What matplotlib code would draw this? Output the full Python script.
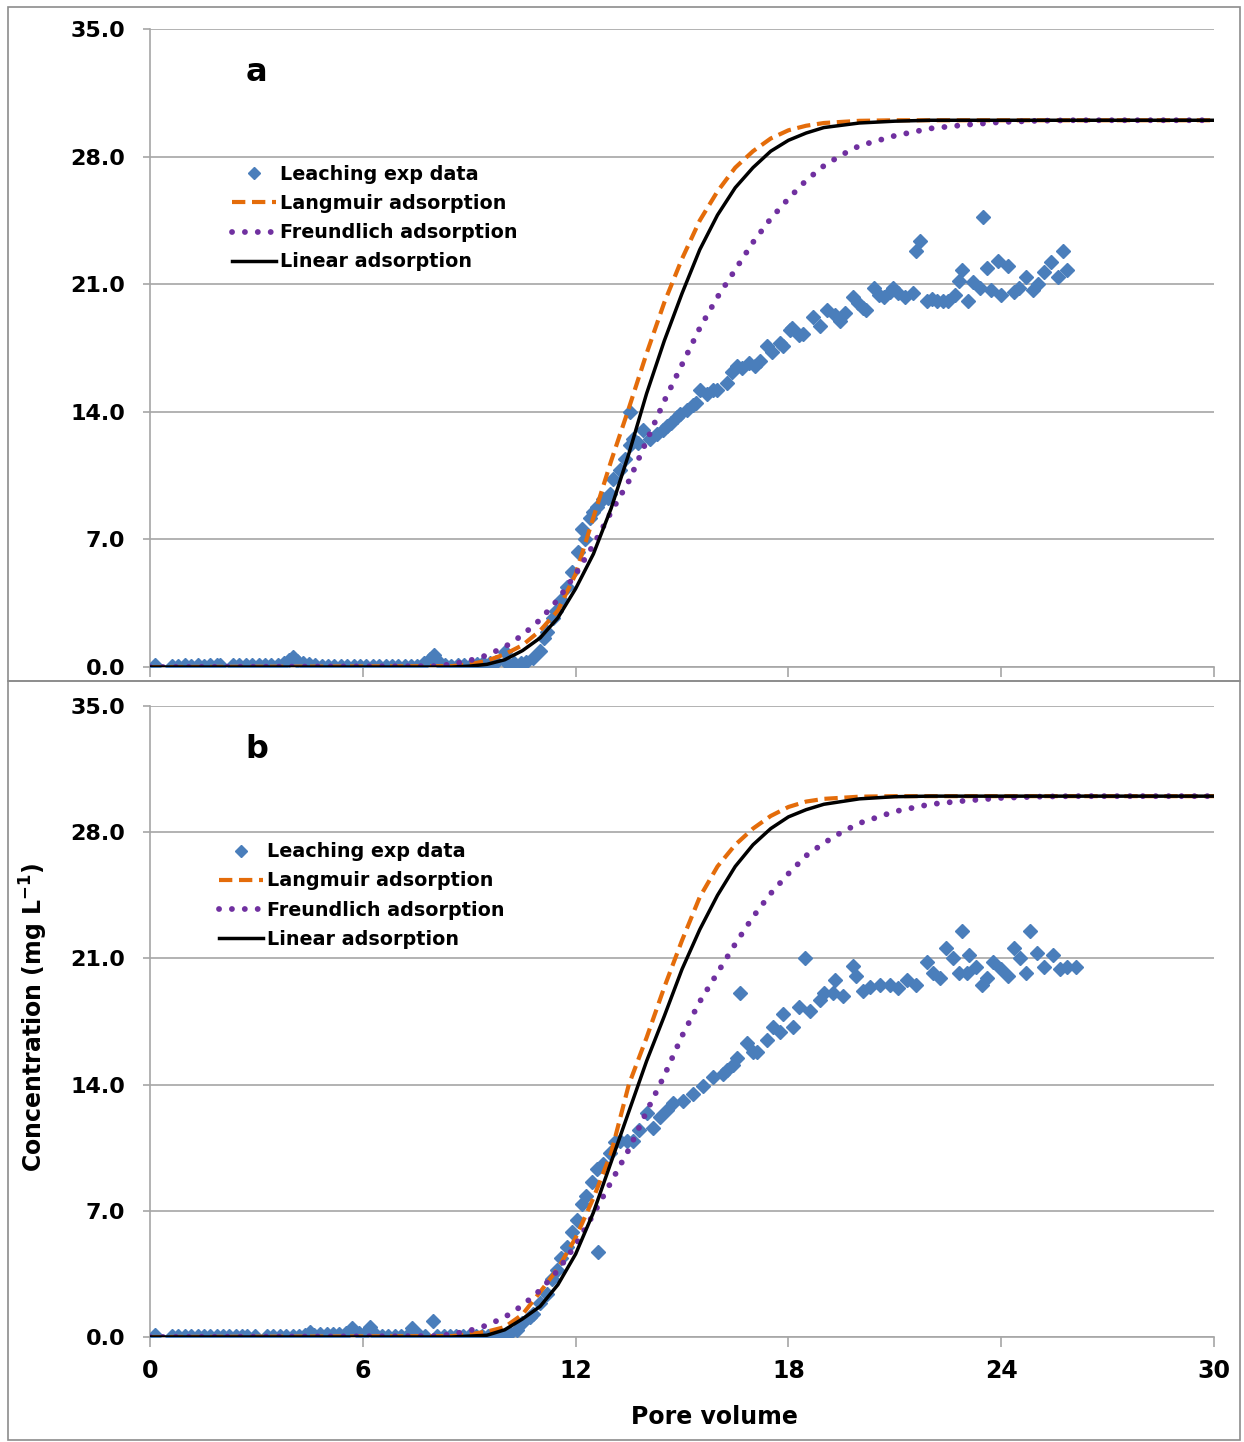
import matplotlib
matplotlib.use("Agg")
import matplotlib.pyplot as plt
from matplotlib.patches import Rectangle

plt.rcParams['font.family'] = ['DejaVu Sans']
plt.rcParams['font.weight'] = 'bold'
plt.rcParams['mathtext.default'] = 'bf'

# ---- leaching experiment data, panel a ----
pv_a = [0.14, 0.62, 0.80, 0.98, 1.16, 1.34, 1.52, 1.70, 1.88, 1.97,
        2.34, 2.52, 2.70, 2.88, 3.06, 3.24, 3.42, 3.60, 3.78, 3.92,
        4.02, 4.14, 4.30, 4.48, 4.66, 4.84, 5.02, 5.20, 5.38, 5.56,
        5.74, 5.92, 6.10, 6.28, 6.46, 6.64, 6.82, 7.00, 7.18, 7.36,
        7.54, 7.72, 7.88, 8.00, 8.14, 8.32, 8.50, 8.68, 8.86, 9.04,
        9.22, 9.40, 9.58, 9.76, 10.00, 10.06, 10.25, 10.45, 10.60, 10.80,
        11.00, 11.10, 11.20, 11.37, 11.45, 11.60, 11.75, 11.90, 12.07, 12.17,
        12.26, 12.40, 12.50, 12.60, 12.78, 12.90, 12.97, 13.05, 13.25, 13.40,
        13.53, 13.53, 13.62, 13.75, 13.90, 14.10, 14.30, 14.45, 14.57, 14.70,
        14.86, 14.94, 15.14, 15.30, 15.40, 15.50, 15.70, 15.87, 15.98, 16.27,
        16.40, 16.55, 16.70, 16.90, 17.05, 17.20, 17.40, 17.55, 17.76, 17.85,
        18.04, 18.10, 18.30, 18.40, 18.70, 18.90, 19.10, 19.30, 19.45, 19.60,
        19.82, 19.95, 20.10, 20.20, 20.40, 20.55, 20.70, 20.85, 20.95, 21.10,
        21.30, 21.50, 21.60, 21.70, 21.90, 22.05, 22.20, 22.36, 22.50, 22.70,
        22.80, 22.90, 23.07, 23.20, 23.40, 23.50, 23.60, 23.70, 23.90, 24.00,
        24.20, 24.35, 24.50, 24.70, 24.90, 25.05, 25.20, 25.40, 25.60, 25.75,
        25.85]
conc_a = [0.10, 0.08, 0.08, 0.10, 0.08, 0.10, 0.08, 0.10, 0.10, 0.12,
          0.12, 0.10, 0.12, 0.10, 0.12, 0.10, 0.10, 0.12, 0.25, 0.40,
          0.55, 0.35, 0.20, 0.15, 0.10, 0.08, 0.06, 0.06, 0.05, 0.05,
          0.05, 0.05, 0.05, 0.05, 0.05, 0.05, 0.05, 0.05, 0.05, 0.05,
          0.08, 0.25, 0.45, 0.65, 0.30, 0.10, 0.08, 0.10, 0.10, 0.12,
          0.15, 0.20, 0.25, 0.30, 0.80, 0.20, 0.20, 0.25, 0.30, 0.50,
          0.90, 1.60, 1.90, 2.70, 3.10, 3.70, 4.40, 5.20, 6.30, 7.60,
          7.00, 8.20, 8.50, 8.80, 9.20, 9.30, 9.50, 10.30, 10.80, 11.40,
          12.20, 14.00, 12.50, 12.30, 13.00, 12.50, 12.80, 13.00, 13.20, 13.40,
          13.70, 13.90, 14.10, 14.40, 14.50, 15.20, 15.00, 15.20, 15.20, 15.60,
          16.20, 16.50, 16.40, 16.70, 16.50, 16.80, 17.60, 17.30, 17.80, 17.60,
          18.50, 18.60, 18.20, 18.30, 19.20, 18.70, 19.60, 19.30, 19.00, 19.40,
          20.30, 20.00, 19.70, 19.60, 20.80, 20.40, 20.30, 20.60, 20.80, 20.50,
          20.30, 20.50, 22.80, 23.40, 20.10, 20.20, 20.10, 20.10, 20.10, 20.40,
          21.20, 21.80, 20.10, 21.10, 20.80, 24.70, 21.90, 20.70, 22.30, 20.40,
          22.00, 20.60, 20.80, 21.40, 20.70, 21.00, 21.70, 22.20, 21.40, 22.80,
          21.80]

# ---- leaching experiment data, panel b ----
pv_b = [0.14, 0.62, 0.80, 0.98, 1.16, 1.34, 1.52, 1.70, 1.88, 2.06,
        2.24, 2.42, 2.60, 2.73, 2.96, 3.30, 3.48, 3.66, 3.84, 4.02,
        4.20, 4.38, 4.50, 4.62, 4.80, 4.98, 5.16, 5.34, 5.52, 5.70,
        5.88, 6.06, 6.20, 6.36, 6.54, 6.72, 6.90, 7.08, 7.26, 7.40,
        7.58, 7.76, 7.97, 8.10, 8.28, 8.46, 8.64, 8.82, 9.00, 9.18,
        9.36, 9.54, 9.72, 9.90, 10.05, 10.15, 10.35, 10.50, 10.70, 10.80,
        11.00, 11.20, 11.33, 11.47, 11.60, 11.75, 11.90, 12.04, 12.17, 12.30,
        12.45, 12.60, 12.63, 12.77, 12.97, 13.10, 13.25, 13.45, 13.62, 13.80,
        14.00, 14.18, 14.38, 14.57, 14.75, 15.03, 15.30, 15.60, 15.87, 16.15,
        16.27, 16.44, 16.55, 16.63, 16.83, 17.00, 17.10, 17.40, 17.56, 17.76,
        17.85, 18.13, 18.30, 18.47, 18.60, 18.90, 19.00, 19.26, 19.30, 19.55,
        19.82, 19.90, 20.10, 20.30, 20.58, 20.86, 21.10, 21.34, 21.60, 21.90,
        22.07, 22.27, 22.44, 22.64, 22.80, 22.90, 23.03, 23.10, 23.30, 23.45,
        23.60, 23.77, 24.00, 24.20, 24.35, 24.53, 24.70, 24.80, 25.00, 25.20,
        25.46, 25.65, 25.85, 26.10]
conc_b = [0.10, 0.05, 0.05, 0.05, 0.05, 0.05, 0.05, 0.05, 0.05, 0.05,
          0.05, 0.05, 0.05, 0.05, 0.05, 0.05, 0.05, 0.05, 0.05, 0.05,
          0.05, 0.10, 0.30, 0.10, 0.15, 0.15, 0.15, 0.15, 0.20, 0.50,
          0.25, 0.20, 0.55, 0.10, 0.05, 0.05, 0.05, 0.05, 0.10, 0.50,
          0.10, 0.05, 0.90, 0.05, 0.05, 0.05, 0.05, 0.05, 0.05, 0.05,
          0.05, 0.05, 0.05, 0.08, 0.10, 0.20, 0.40, 0.80, 1.10, 1.30,
          1.90, 2.40, 3.20, 3.70, 4.40, 5.00, 5.80, 6.50, 7.40, 7.80,
          8.60, 9.30, 4.70, 9.60, 10.20, 10.80, 10.90, 10.90, 10.90, 11.50,
          12.40, 11.60, 12.20, 12.60, 13.00, 13.10, 13.50, 13.90, 14.40, 14.60,
          14.80, 15.10, 15.50, 19.10, 16.30, 15.80, 15.80, 16.50, 17.20, 16.90,
          17.90, 17.20, 18.30, 21.00, 18.10, 18.70, 19.10, 19.10, 19.80, 18.90,
          20.60, 20.00, 19.20, 19.40, 19.50, 19.50, 19.35, 19.80, 19.50, 20.80,
          20.20, 19.90, 21.60, 21.00, 20.20, 22.50, 20.20, 21.20, 20.50, 19.50,
          19.90, 20.80, 20.40, 20.00, 21.60, 21.00, 20.20, 22.50, 21.30, 20.50,
          21.20, 20.40, 20.50, 20.50]

# ---- model curves ----
pv_lang = [0, 8.5, 9.0, 9.5, 10.0, 10.5, 11.0, 11.5, 12.0, 12.5, 13.0, 13.5, 14.0,
           14.5, 15.0, 15.5, 16.0, 16.5, 17.0, 17.5, 18.0, 18.5, 19.0, 20.0, 21.0, 22.0, 30.0]
lang_a = [0, 0.05, 0.15, 0.35, 0.7, 1.2, 2.0, 3.1, 5.1, 8.2, 11.3, 14.2, 17.2,
          20.0, 22.4, 24.5, 26.1, 27.4, 28.3, 29.0, 29.45, 29.7, 29.85, 29.97, 30.0, 30.0, 30.0]
lin_a = [0, 0.0, 0.05, 0.15, 0.4, 0.9, 1.6, 2.7, 4.3, 6.2, 8.7, 11.7, 15.0,
         17.9, 20.5, 22.9, 24.8, 26.3, 27.4, 28.3, 28.9, 29.3, 29.6, 29.85, 29.95, 30.0, 30.0]
lang_b = [0, 0.05, 0.15, 0.3, 0.55, 1.25, 2.5, 3.8, 5.5, 7.7, 10.2, 14.0, 16.6,
          19.4, 22.0, 24.4, 26.1, 27.3, 28.2, 28.9, 29.4, 29.7, 29.85, 29.97, 30.0, 30.0, 30.0]
lin_b = [0, 0.0, 0.05, 0.1, 0.4, 1.0, 1.7, 2.9, 4.6, 6.9, 9.7, 12.5, 15.3,
         17.8, 20.4, 22.6, 24.5, 26.1, 27.3, 28.2, 28.85, 29.25, 29.55, 29.85, 29.97, 30.0, 30.0]

pv_freu = [0, 8.0, 8.5, 9.0, 9.5, 10.0, 10.5, 11.0, 11.5, 12.0, 12.5, 13.0, 13.5, 14.0,
           14.5, 15.0, 15.5, 16.0, 16.5, 17.0, 17.5, 18.0, 18.5, 19.0, 19.5, 20.0,
           21.0, 22.0, 23.0, 24.0, 25.0, 26.0, 30.0]
freu_a = [0, 0.05, 0.15, 0.35, 0.65, 1.1, 1.75, 2.6, 3.7, 5.1, 6.7, 8.5, 10.2, 12.4,
          14.6, 16.6, 18.6, 20.3, 21.8, 23.3, 24.6, 25.7, 26.7, 27.5, 28.1, 28.6,
          29.15, 29.55, 29.75, 29.9, 29.97, 30.0, 30.0]
freu_b = [0, 0.05, 0.15, 0.35, 0.65, 1.1, 1.75, 2.6, 3.7, 5.1, 6.8, 8.6, 10.4, 12.5,
          14.5, 16.7, 18.6, 20.2, 21.8, 23.3, 24.6, 25.7, 26.7, 27.4, 28.0, 28.5,
          29.15, 29.55, 29.75, 29.9, 29.97, 30.0, 30.0]

yticks = [0, 7, 14, 21, 28, 35]
xticks = [0, 6, 12, 18, 24, 30]

BLUE = '#4A7EBB'
ORANGE = '#E46C0A'
PURPLE = '#7030A0'
GRID = '#A6A6A6'


def draw_panel(ax, pv, conc, lang, lin, freu, letter, leg_anchor, show_x):
    ax.plot(pv, conc, linestyle='none', marker='D', markersize=7.6,
            color=BLUE, markeredgecolor=BLUE, label='Leaching exp data', zorder=3)
    ax.plot(pv_lang, lang, color=ORANGE, lw=3.0, dashes=(3.2, 1.6),
            label='Langmuir adsorption', zorder=4)
    ax.plot(pv_freu, freu, color=PURPLE, lw=4.2, linestyle=(0, (0.01, 2.2)),
            dash_capstyle='round', label='Freundlich adsorption', zorder=4)
    ax.plot(pv_lang, lin, color='black', lw=2.5,
            label='Linear adsorption', zorder=5)

    ax.set_xlim(0, 30)
    ax.set_ylim(0, 35)
    ax.set_xticks(xticks)
    ax.set_yticks(yticks)
    ax.set_yticklabels(['%.1f' % v for v in yticks])
    if show_x:
        ax.set_xticklabels([str(v) for v in xticks])
    else:
        ax.set_xticklabels([])
    ax.tick_params(axis='y', length=5, width=1.2, color=GRID, pad=13, labelsize=16)
    ax.tick_params(axis='x', length=7, width=1.2, color=GRID, pad=9, labelsize=17)
    ax.grid(axis='y', color=GRID, lw=1.2)
    ax.set_axisbelow(True)
    for side in ['top', 'right']:
        ax.spines[side].set_visible(False)
    for side in ['left', 'bottom']:
        ax.spines[side].set_color(GRID)
        ax.spines[side].set_linewidth(1.2)

    ax.text(3.0, 32.6, letter, fontsize=23, fontweight='bold', ha='center', va='center')
    ax.legend(loc='upper left', bbox_to_anchor=leg_anchor, frameon=False,
              fontsize=13.8, handlelength=2.3, handletextpad=0.2,
              labelspacing=0.53, borderpad=0, borderaxespad=0, numpoints=1,
              markerscale=0.8)


fig = plt.figure(figsize=(12.44, 14.42), dpi=100)
ax_a = fig.add_axes([0.1206, 0.5374, 0.8553, 0.4424])
ax_b = fig.add_axes([0.1206, 0.0728, 0.8553, 0.4376])

draw_panel(ax_a, pv_a, conc_a, lang_a, lin_a, freu_a, 'a', (0.077, 0.787), False)
draw_panel(ax_b, pv_b, conc_b, lang_b, lin_b, freu_b, 'b', (0.065, 0.784), True)

ax_b.set_xlabel('Pore volume', fontsize=17, fontweight='bold')
ax_b.xaxis.set_label_coords(0.530, -0.108)
ax_b.set_ylabel('Concentration (mg L$^{-1}$)', fontsize=17, fontweight='bold')
ax_b.yaxis.set_label_coords(-0.094, 0.507)

# panel frames
fig.add_artist(Rectangle((0.0064, 0.5277), 0.9904, 0.4674, transform=fig.transFigure,
                         fill=False, ec='#8C8C8C', lw=1.2))
fig.add_artist(Rectangle((0.0064, 0.0014), 0.9904, 0.5263, transform=fig.transFigure,
                         fill=False, ec='#8C8C8C', lw=1.2))

fig.savefig('out.png', dpi=100)
